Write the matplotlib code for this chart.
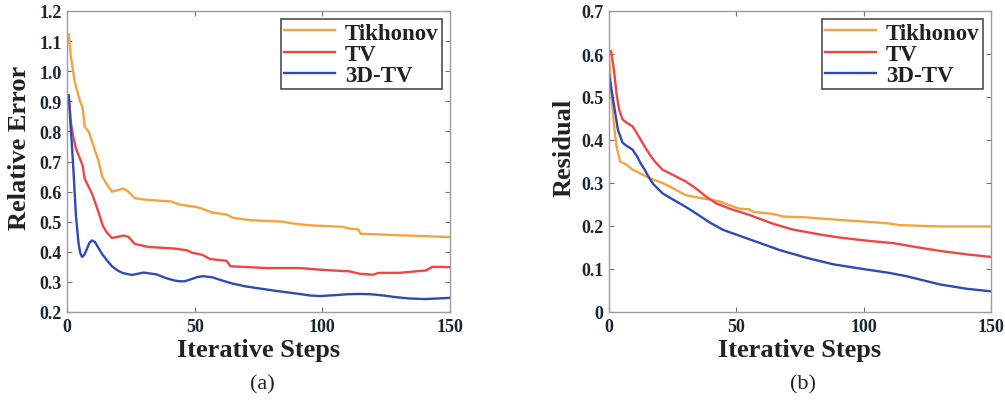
import matplotlib
matplotlib.use("Agg")
import matplotlib.pyplot as plt

# ---------------- data: panel (a) Relative Error ----------------
a_tik_x = [0.7, 1.5, 3, 5.1, 6.1, 6.9, 8.5, 10.7, 12.4, 13.8, 15.5, 17.6, 20, 22, 24, 26.6, 31, 41, 44, 49.5, 52, 57, 62.5, 65, 71.6, 84.6, 88.5, 95, 108, 110.7, 114, 115, 130, 150]
a_tik_y = [1.122, 1.05, 0.965, 0.90, 0.88, 0.816, 0.80, 0.743, 0.70, 0.65, 0.625, 0.60, 0.605, 0.61, 0.60, 0.578, 0.573, 0.567, 0.557, 0.55, 0.546, 0.53, 0.524, 0.513, 0.505, 0.50, 0.494, 0.488, 0.483, 0.477, 0.475, 0.46, 0.455, 0.449]

a_tv_x = [0.7, 1.5, 2.6, 3.5, 4.6, 6.1, 6.9, 9.8, 12, 14, 15.5, 17.6, 20, 22.2, 24, 26.6, 32, 41.7, 47, 49, 53, 56, 62.5, 64, 78, 91, 100, 110.7, 114.6, 120, 122, 130, 140.6, 143, 150]
a_tv_y = [0.916, 0.83, 0.776, 0.743, 0.72, 0.687, 0.643, 0.593, 0.54, 0.487, 0.465, 0.446, 0.45, 0.454, 0.45, 0.426, 0.416, 0.411, 0.405, 0.397, 0.39, 0.376, 0.37, 0.352, 0.346, 0.346, 0.34, 0.335, 0.327, 0.324, 0.33, 0.33, 0.338, 0.35, 0.349]

a_3d_x = [0.7, 1.4, 2.0, 2.6, 3.5, 4.5, 5.2, 5.9, 6.8, 7.8, 8.8, 9.8, 11, 12.5, 14, 15.8, 17.6, 20, 22, 25.4, 30, 35, 39, 42, 44, 46, 48, 51, 53.4, 57, 61, 65, 70, 75.5, 82, 91, 95, 99, 105, 110, 114.6, 119, 123.7, 129, 134, 140, 143, 150]
a_3d_y = [0.92, 0.82, 0.743, 0.66, 0.52, 0.43, 0.395, 0.383, 0.39, 0.41, 0.43, 0.438, 0.432, 0.41, 0.39, 0.37, 0.352, 0.337, 0.329, 0.323, 0.331, 0.325, 0.312, 0.305, 0.302, 0.302, 0.307, 0.316, 0.319, 0.315, 0.304, 0.294, 0.285, 0.278, 0.27, 0.26, 0.255, 0.253, 0.256, 0.259, 0.26, 0.259, 0.255, 0.249, 0.245, 0.243, 0.244, 0.247]

# ---------------- data: panel (b) Residual ----------------
b_tik_x = [0, 0.8, 1.6, 2.8, 4.3, 6.8, 9.2, 10.7, 16, 21, 25, 30, 34, 38, 43.5, 48.8, 51.4, 55, 56.6, 64.5, 68.4, 77.6, 90.7, 101, 110, 114, 130, 150]
b_tik_y = [0.595, 0.52, 0.456, 0.39, 0.35, 0.343, 0.331, 0.327, 0.311, 0.30, 0.288, 0.272, 0.267, 0.263, 0.257, 0.245, 0.24, 0.239, 0.233, 0.228, 0.222, 0.22, 0.214, 0.21, 0.206, 0.202, 0.199, 0.199]

b_tv_x = [0, 0.8, 2, 2.9, 4.0, 5.3, 7, 9.2, 10.5, 12, 14, 16, 18, 21, 25, 30, 34, 38, 42, 47.5, 55, 64.5, 72, 83, 90.7, 101, 111.7, 119.6, 130, 140.5, 150]
b_tv_y = [0.603, 0.607, 0.56, 0.51, 0.47, 0.448, 0.44, 0.432, 0.42, 0.405, 0.385, 0.366, 0.35, 0.331, 0.319, 0.304, 0.288, 0.269, 0.253, 0.24, 0.226, 0.205, 0.192, 0.18, 0.173, 0.166, 0.16, 0.152, 0.142, 0.134, 0.128]

b_3d_x = [0, 1.6, 3.5, 5.3, 7, 9.2, 11, 12.5, 14, 15.5, 17.3, 21, 25, 30, 34, 39.6, 44.8, 51.4, 59, 67, 77.6, 88, 98.6, 110, 117, 130, 140.5, 150]
b_3d_y = [0.553, 0.494, 0.424, 0.394, 0.386, 0.378, 0.362, 0.345, 0.331, 0.315, 0.298, 0.276, 0.262, 0.245, 0.23, 0.208, 0.191, 0.177, 0.161, 0.144, 0.126, 0.111, 0.101, 0.091, 0.083, 0.064, 0.054, 0.048]

labels = ["Tikhonov", "TV", "3D-TV"]
colors = ["#F4A340", "#EE4545", "#2E4BB5"]

a_yticks = [0.2, 0.3, 0.4, 0.5, 0.6, 0.7, 0.8, 0.9, 1.0, 1.1, 1.2]
a_yticklabels = ["0.2", "0.3", "0.4", "0.5", "0.6", "0.7", "0.8", "0.9", "1.0", "1.1", "1.2"]
b_yticks = [0, 0.1, 0.2, 0.3, 0.4, 0.5, 0.6, 0.7]
b_yticklabels = ["0", "0.1", "0.2", "0.3", "0.4", "0.5", "0.6", "0.7"]
xticks = [0, 50, 100, 150]

plt.rcParams['font.family'] = ['Liberation Serif', 'DejaVu Serif']

fig = plt.figure(figsize=(10.05, 4.02), dpi=100)
W, H = 1005, 402

def make_ax(left_px, right_px, top_px, bot_px):
    return fig.add_axes([left_px / W, 1 - bot_px / H, (right_px - left_px) / W, (bot_px - top_px) / H])

axA = make_ax(67, 450, 12, 313)
axB = make_ax(609, 991, 12, 313)

spine_col = "#9c9ca4"
tick_col = "#1c2630"

def style(ax, ylim, yticks, yticklabels, ylabel, ylab_x):
    ax.set_xlim(0, 150)
    ax.set_ylim(*ylim)
    ax.set_xticks(xticks)
    ax.set_xticklabels([str(t) for t in xticks])
    ax.set_yticks(yticks)
    ax.set_yticklabels(yticklabels)
    for s in ax.spines.values():
        s.set_color(spine_col)
        s.set_linewidth(1.0)
    ax.tick_params(direction='in', length=3.5, width=0.8, color="#707078",
                   top=True, right=True, labelsize=13, labelcolor=tick_col, pad=4)
    for lab in ax.get_xticklabels() + ax.get_yticklabels():
        lab.set_fontweight('bold')
    ax.set_ylabel(ylabel, fontsize=19, fontweight='bold', color="#222222", va='center')
    ax.yaxis.set_label_coords(ylab_x, 0.548)
    ax.set_xlabel("Iterative Steps", fontsize=19, fontweight='bold', color="#222222", va='center')
    ax.xaxis.set_label_coords(0.5, -0.123)
    leg = ax.legend(loc='upper right', frameon=True, fancybox=False,
                    edgecolor='#222222', handlelength=2.2, handletextpad=0.45,
                    labelspacing=0.0, borderpad=0.15, borderaxespad=0.35,
                    prop={'weight': 'bold', 'size': 16.5})
    leg.get_frame().set_linewidth(1.2)
    for t in leg.get_texts():
        t.set_color("#222222")

for xs, ys, lab, c in zip([a_tik_x, a_tv_x, a_3d_x], [a_tik_y, a_tv_y, a_3d_y], labels, colors):
    axA.plot(xs, ys, color=c, lw=1.7, label=lab)
for xs, ys, lab, c in zip([b_tik_x, b_tv_x, b_3d_x], [b_tik_y, b_tv_y, b_3d_y], labels, colors):
    axB.plot(xs, ys, color=c, lw=1.7, label=lab)

style(axA, (0.2, 1.2), a_yticks, a_yticklabels, "Relative Error", -0.123)
style(axB, (0, 0.7), b_yticks, b_yticklabels, "Residual", -0.118)

fig.text(262 / W, 1 - 385 / H, "(a)", ha='center', va='center', fontsize=16, color="#222222")
fig.text(803 / W, 1 - 385 / H, "(b)", ha='center', va='center', fontsize=16, color="#222222")

fig.savefig("out.png", dpi=100)
